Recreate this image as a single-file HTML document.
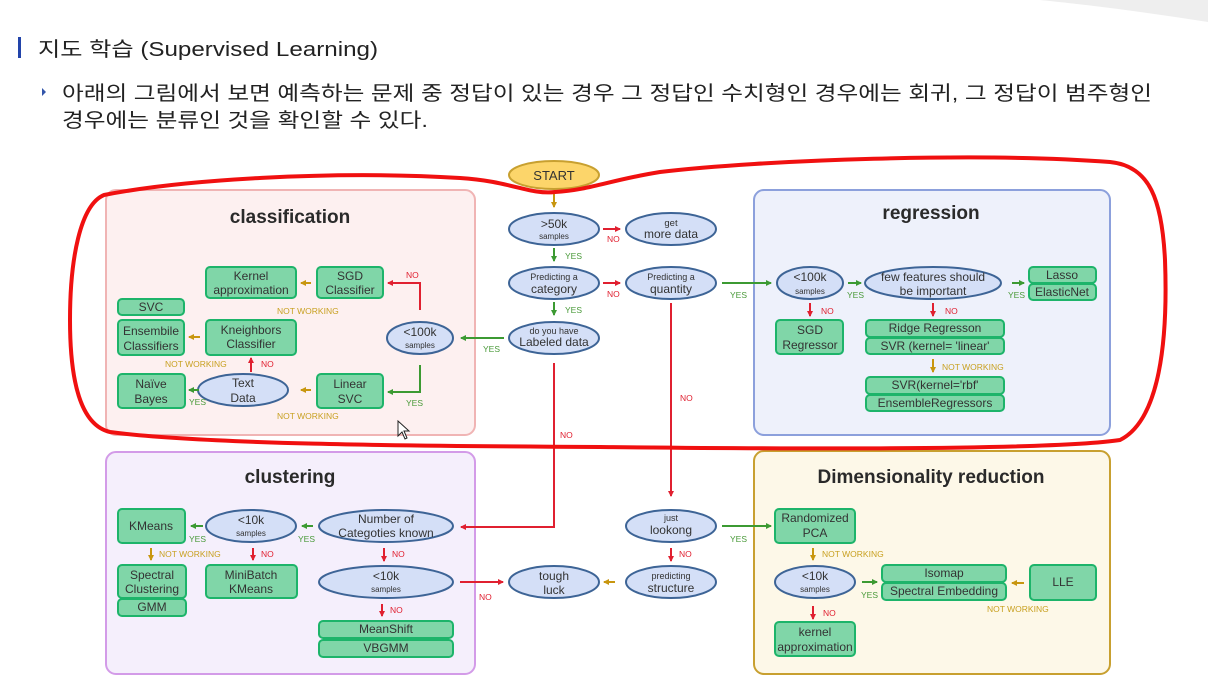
<!DOCTYPE html>
<html><head><meta charset="utf-8"><style>
html,body{margin:0;padding:0;background:#fff;width:1208px;height:689px;overflow:hidden}
svg{display:block}
text{font-family:"Liberation Sans","DejaVu Sans",sans-serif}
.t{font-size:12px;fill:#333;text-anchor:middle}
.s{font-size:8px;fill:#333;text-anchor:middle}
.h{font-size:19px;font-weight:bold;fill:#2a2a2a;text-anchor:middle}
.lr{font-size:8.5px;fill:#e02030}
.lg{font-size:8.5px;fill:#4a9a3a}
.ly{font-size:8.5px;fill:#c8a020}
.e{fill:#d4dff7;stroke:#3d6496;stroke-width:2}
.b{fill:#80d6a8;stroke:#1db46a;stroke-width:2}
.r{stroke:#e02030;stroke-width:2;fill:none}
.g{stroke:#3c9a32;stroke-width:2;fill:none}
.y{stroke:#c8960f;stroke-width:2;fill:none}
.k{font-family:"Liberation Sans","Noto Sans CJK KR",sans-serif;fill:#222}
</style></head><body>
<svg width="1208" height="689" viewBox="0 0 1208 689" xmlns="http://www.w3.org/2000/svg">
<defs>
<marker id="mr" markerWidth="6" markerHeight="6" refX="5" refY="3" orient="auto" markerUnits="userSpaceOnUse"><path d="M0,0L6,3L0,6z" fill="#e02030"/></marker>
<marker id="mg" markerWidth="6" markerHeight="6" refX="5" refY="3" orient="auto" markerUnits="userSpaceOnUse"><path d="M0,0L6,3L0,6z" fill="#3c9a32"/></marker>
<marker id="my" markerWidth="6" markerHeight="6" refX="5" refY="3" orient="auto" markerUnits="userSpaceOnUse"><path d="M0,0L6,3L0,6z" fill="#c8960f"/></marker>
</defs>
<path d="M1040,0 L1208,0 L1208,22 Q1120,8 1040,0z" fill="#eeeeee"/>
<rect x="18" y="37" width="3" height="21" fill="#2244aa"/>
<text x="38" y="56" class="k" style="font-size:20px" textLength="340" lengthAdjust="spacingAndGlyphs">지도 학습 (Supervised Learning)</text>
<path d="M42,88 L46,92 L42,96z" fill="#3355aa"/>
<text x="62" y="100" class="k" style="font-size:20px" textLength="1090" lengthAdjust="spacingAndGlyphs">아래의 그림에서 보면 예측하는 문제 중 정답이 있는 경우 그 정답인 수치형인 경우에는 회귀, 그 정답이 범주형인</text>
<text x="62" y="127" class="k" style="font-size:20px" textLength="366" lengthAdjust="spacingAndGlyphs">경우에는 분류인 것을 확인할 수 있다.</text>

<rect x="106" y="190" width="369" height="245" rx="10" fill="#fdf0f0" stroke="#f0b4b4" stroke-width="2"/>
<rect x="754" y="190" width="356" height="245" rx="10" fill="#eef1fb" stroke="#8ca0dc" stroke-width="2"/>
<rect x="106" y="452" width="369" height="222" rx="10" fill="#f5effc" stroke="#d39be8" stroke-width="2"/>
<rect x="754" y="451" width="356" height="223" rx="10" fill="#fdf8e8" stroke="#c8a030" stroke-width="2"/>
<text x="290" y="223" class="h">classification</text>
<text x="931" y="219" class="h">regression</text>
<text x="290" y="483" class="h">clustering</text>
<text x="931" y="483" class="h">Dimensionality reduction</text>

<ellipse cx="554" cy="175" rx="45" ry="14" fill="#fcd56a" stroke="#c8a030" stroke-width="2"/>
<text x="554" y="180" class="t" style="font-size:13px">START</text>
<g>
<ellipse class="e" cx="554" cy="229" rx="45" ry="16"/><text x="554" y="228" class="t">&gt;50k</text><text x="554" y="239" class="s">samples</text>
<ellipse class="e" cx="671" cy="229" rx="45" ry="16"/><text x="671" y="226" class="s" style="font-size:9.5px">get</text><text x="671" y="238" class="t">more data</text>
<ellipse class="e" cx="554" cy="283" rx="45" ry="16"/><text x="554" y="280" class="s" style="font-size:9px">Predicting a</text><text x="554" y="293" class="t">category</text>
<ellipse class="e" cx="671" cy="283" rx="45" ry="16"/><text x="671" y="280" class="s" style="font-size:9px">Predicting a</text><text x="671" y="293" class="t">quantity</text>
<ellipse class="e" cx="554" cy="338" rx="45" ry="16"/><text x="554" y="334" class="s" style="font-size:9px">do you have</text><text x="554" y="346" class="t">Labeled data</text>
<ellipse class="e" cx="420" cy="338" rx="33" ry="16"/><text x="420" y="336" class="t">&lt;100k</text><text x="420" y="348" class="s">samples</text>
<ellipse class="e" cx="243" cy="390" rx="45" ry="16"/><text x="243" y="387" class="t">Text</text><text x="243" y="402" class="t">Data</text>
<ellipse class="e" cx="810" cy="283" rx="33" ry="16"/><text x="810" y="281" class="t">&lt;100k</text><text x="810" y="294" class="s">samples</text>
<ellipse class="e" cx="933" cy="283" rx="68" ry="16"/><text x="933" y="281" class="t">few features should</text><text x="933" y="295" class="t">be important</text>
<ellipse class="e" cx="386" cy="526" rx="67" ry="16"/><text x="386" y="523" class="t">Number of</text><text x="386" y="537" class="t">Categoties known</text>
<ellipse class="e" cx="251" cy="526" rx="45" ry="16"/><text x="251" y="524" class="t">&lt;10k</text><text x="251" y="536" class="s">samples</text>
<ellipse class="e" cx="386" cy="582" rx="67" ry="16"/><text x="386" y="580" class="t">&lt;10k</text><text x="386" y="592" class="s">samples</text>
<ellipse class="e" cx="554" cy="582" rx="45" ry="16"/><text x="554" y="580" class="t">tough</text><text x="554" y="594" class="t">luck</text>
<ellipse class="e" cx="671" cy="526" rx="45" ry="16"/><text x="671" y="521" class="s" style="font-size:9px">just</text><text x="671" y="534" class="t">lookong</text>
<ellipse class="e" cx="671" cy="582" rx="45" ry="16"/><text x="671" y="579" class="s" style="font-size:9px">predicting</text><text x="671" y="592" class="t">structure</text>
<ellipse class="e" cx="815" cy="582" rx="40" ry="16"/><text x="815" y="580" class="t">&lt;10k</text><text x="815" y="592" class="s">samples</text>
</g>

<g>
<rect class="b" x="206" y="267" width="90" height="31" rx="4"/><text x="251" y="280" class="t">Kernel</text><text x="251" y="294" class="t">approximation</text>
<rect class="b" x="317" y="267" width="66" height="31" rx="4"/><text x="350" y="280" class="t">SGD</text><text x="350" y="294" class="t">Classifier</text>
<rect class="b" x="118" y="299" width="66" height="16" rx="4"/><text x="151" y="311" class="t">SVC</text>
<rect class="b" x="118" y="320" width="66" height="35" rx="4"/><text x="151" y="335" class="t">Ensembile</text><text x="151" y="350" class="t">Classifiers</text>
<rect class="b" x="206" y="320" width="90" height="35" rx="4"/><text x="251" y="334" class="t">Kneighbors</text><text x="251" y="348" class="t">Classifier</text>
<rect class="b" x="118" y="374" width="67" height="34" rx="4"/><text x="151" y="388" class="t">Naïve</text><text x="151" y="403" class="t">Bayes</text>
<rect class="b" x="317" y="374" width="66" height="34" rx="4"/><text x="350" y="388" class="t">Linear</text><text x="350" y="403" class="t">SVC</text>
<rect class="b" x="776" y="320" width="67" height="34" rx="4"/><text x="810" y="334" class="t">SGD</text><text x="810" y="349" class="t">Regressor</text>
<rect class="b" x="1029" y="267" width="67" height="16" rx="4"/><text x="1062" y="279" class="t">Lasso</text>
<rect class="b" x="1029" y="284" width="67" height="16" rx="4"/><text x="1062" y="296" class="t">ElasticNet</text>
<rect class="b" x="866" y="320" width="138" height="17" rx="4"/><text x="935" y="332" class="t">Ridge Regresson</text>
<rect class="b" x="866" y="338" width="138" height="16" rx="4"/><text x="935" y="350" class="t">SVR (kernel= 'linear'</text>
<rect class="b" x="866" y="377" width="138" height="17" rx="4"/><text x="935" y="389" class="t">SVR(kernel='rbf'</text>
<rect class="b" x="866" y="395" width="138" height="16" rx="4"/><text x="935" y="407" class="t">EnsembleRegressors</text>
<rect class="b" x="118" y="509" width="67" height="34" rx="4"/><text x="151" y="530" class="t">KMeans</text>
<rect class="b" x="118" y="565" width="68" height="33" rx="4"/><text x="152" y="579" class="t">Spectral</text><text x="152" y="593" class="t">Clustering</text>
<rect class="b" x="118" y="599" width="68" height="17" rx="4"/><text x="152" y="611" class="t">GMM</text>
<rect class="b" x="206" y="565" width="91" height="33" rx="4"/><text x="251" y="579" class="t">MiniBatch</text><text x="251" y="593" class="t">KMeans</text>
<rect class="b" x="319" y="621" width="134" height="17" rx="4"/><text x="386" y="633" class="t">MeanShift</text>
<rect class="b" x="319" y="640" width="134" height="17" rx="4"/><text x="386" y="652" class="t">VBGMM</text>
<rect class="b" x="775" y="509" width="80" height="34" rx="4"/><text x="815" y="522" class="t">Randomized</text><text x="815" y="537" class="t">PCA</text>
<rect class="b" x="775" y="622" width="80" height="34" rx="4"/><text x="815" y="636" class="t">kernel</text><text x="815" y="651" class="t">approximation</text>
<rect class="b" x="882" y="565" width="124" height="17" rx="4"/><text x="944" y="577" class="t">Isomap</text>
<rect class="b" x="882" y="583" width="124" height="17" rx="4"/><text x="944" y="595" class="t">Spectral Embedding</text>
<rect class="b" x="1030" y="565" width="66" height="35" rx="4"/><text x="1063" y="586" class="t">LLE</text>
</g>

<path class="y" d="M554,193V207" marker-end="url(#my)"/>
<path class="r" d="M603,229H620" marker-end="url(#mr)"/><text x="607" y="242" class="lr">NO</text>
<path class="g" d="M554,248V261" marker-end="url(#mg)"/><text x="565" y="259" class="lg">YES</text>
<path class="r" d="M603,283H620" marker-end="url(#mr)"/><text x="607" y="297" class="lr">NO</text>
<path class="g" d="M554,302V315" marker-end="url(#mg)"/><text x="565" y="313" class="lg">YES</text>
<path class="g" d="M504,338H461" marker-end="url(#mg)"/><text x="483" y="352" class="lg">YES</text>
<path class="r" d="M554,363V527H461" marker-end="url(#mr)"/><text x="560" y="438" class="lr">NO</text>
<path class="g" d="M722,283H771" marker-end="url(#mg)"/><text x="730" y="298" class="lg">YES</text>
<path class="r" d="M671,303V496" marker-end="url(#mr)"/><text x="680" y="401" class="lr">NO</text>
<path class="r" d="M420,310V283H388" marker-end="url(#mr)"/><text x="406" y="278" class="lr">NO</text>
<path class="g" d="M420,365V392H388" marker-end="url(#mg)"/><text x="406" y="406" class="lg">YES</text>
<path class="y" d="M311,283H301" marker-end="url(#my)"/><text x="277" y="314" class="ly">NOT WORKING</text>
<path class="y" d="M200,337H189" marker-end="url(#my)"/><text x="165" y="367" class="ly">NOT WORKING</text>
<path class="y" d="M311,390H301" marker-end="url(#my)"/><text x="277" y="419" class="ly">NOT WORKING</text>
<path class="r" d="M251,372V358" marker-end="url(#mr)"/><text x="261" y="367" class="lr">NO</text>
<path class="g" d="M199,390H189" marker-end="url(#mg)"/><text x="189" y="405" class="lg">YES</text>
<path class="g" d="M848,283H861" marker-end="url(#mg)"/><text x="847" y="298" class="lg">YES</text>
<path class="r" d="M810,303V316" marker-end="url(#mr)"/><text x="821" y="314" class="lr">NO</text>
<path class="g" d="M1012,283H1024" marker-end="url(#mg)"/><text x="1008" y="298" class="lg">YES</text>
<path class="r" d="M933,303V316" marker-end="url(#mr)"/><text x="945" y="314" class="lr">NO</text>
<path class="y" d="M933,359V372" marker-end="url(#my)"/><text x="942" y="370" class="ly">NOT WORKING</text>
<path class="g" d="M313,526H302" marker-end="url(#mg)"/><text x="298" y="542" class="lg">YES</text>
<path class="g" d="M203,526H191" marker-end="url(#mg)"/><text x="189" y="542" class="lg">YES</text>
<path class="y" d="M151,548V560" marker-end="url(#my)"/><text x="159" y="557" class="ly">NOT WORKING</text>
<path class="r" d="M253,548V560" marker-end="url(#mr)"/><text x="261" y="557" class="lr">NO</text>
<path class="r" d="M384,548V561" marker-end="url(#mr)"/><text x="392" y="557" class="lr">NO</text>
<path class="r" d="M382,604V616" marker-end="url(#mr)"/><text x="390" y="613" class="lr">NO</text>
<path class="r" d="M460,582H503" marker-end="url(#mr)"/><text x="479" y="600" class="lr">NO</text>
<path class="y" d="M615,582H604" marker-end="url(#my)"/>
<path class="r" d="M671,548V561" marker-end="url(#mr)"/><text x="679" y="557" class="lr">NO</text>
<path class="g" d="M722,526H771" marker-end="url(#mg)"/><text x="730" y="542" class="lg">YES</text>
<path class="y" d="M813,548V560" marker-end="url(#my)"/><text x="822" y="557" class="ly">NOT WORKING</text>
<path class="g" d="M862,582H877" marker-end="url(#mg)"/><text x="861" y="598" class="lg">YES</text>
<path class="r" d="M813,606V619" marker-end="url(#mr)"/><text x="823" y="616" class="lr">NO</text>
<path class="y" d="M1024,583H1012" marker-end="url(#my)"/><text x="987" y="612" class="ly">NOT WORKING</text>

<path d="M104,195 C180,180 330,170 460,178 C510,181 530,195 555,192 C590,190 610,180 660,172 C760,160 980,152 1110,162 C1150,166 1162,200 1165,260 C1168,340 1160,420 1120,440 C1040,452 700,448 600,447 C400,446 200,444 110,432 C80,425 70,380 70,320 C70,260 80,205 104,195 Z" fill="none" stroke="#f01010" stroke-width="4"/>
<path d="M398,421 L398,436 L402,432 L405,439 L407,438 L404,431 L409,431 Z" fill="#fff" stroke="#222" stroke-width="1"/>
</svg>
</body></html>
